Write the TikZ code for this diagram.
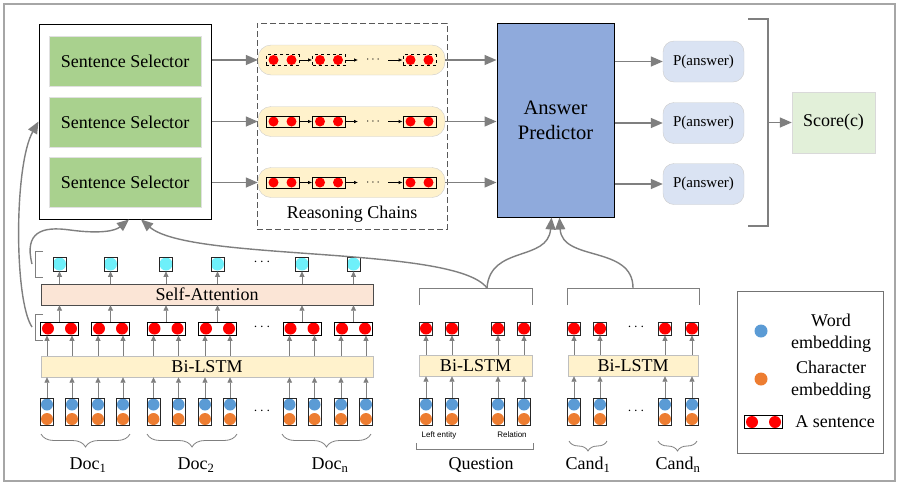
\documentclass[tikz,border=0pt]{standalone}
\usepackage{fontspec}
\setmainfont{Liberation Serif}
\newfontfamily\smallsans{Liberation Sans}
\usepackage{xcolor}
\usetikzlibrary{arrows.meta, calc, decorations.pathreplacing, positioning}
\definecolor{selgreen}{HTML}{A9D18E}
\definecolor{paleyellow}{HTML}{FFF2CC}
\definecolor{predblue}{HTML}{8FAADC}
\definecolor{ansblue}{HTML}{DAE3F3}
\definecolor{scoregreen}{HTML}{E2F0D9}
\definecolor{attpeach}{HTML}{FBE5D6}
\definecolor{cyandot}{RGB}{110,240,250}
\definecolor{wordblue}{HTML}{5B9BD5}
\definecolor{charorange}{HTML}{ED7D31}
\definecolor{dotred}{HTML}{FF0000}
\definecolor{arrowgray}{HTML}{7F7F7F}
\tikzset{
	% text
	txt/.style={font=\fontsize{18}{22}\selectfont},
	% boxes
	selector/.style={txt, fill=selgreen, draw=black!12, minimum width=152pt, minimum height=50pt},
	chain/.style={rounded corners=13pt, fill=paleyellow, draw=black!20, minimum width=187pt, minimum height=30pt},
	layer/.style={txt, draw=black!70, inner sep=0pt, minimum height=21pt},
	answer/.style={font=\fontsize{15}{18}\selectfont, rounded corners=11pt, fill=ansblue, draw=black!20, minimum width=81pt, minimum height=41pt},
	% sentences
	bigsent/.style={draw=black, line width=0.8pt, inner sep=0pt, minimum width=38pt, minimum height=13pt,
		path picture={
			\fill[dotred] ([xshift=-11.5pt]path picture bounding box.center) circle (6pt);
			\fill[dotred] ([xshift=11.5pt]path picture bounding box.center) circle (6pt);
		}},
	chainsent/.style={draw=black, line width=0.7pt, inner sep=0pt, minimum width=33pt, minimum height=11pt,
		path picture={
			\fill[dotred] ([xshift=-9pt]path picture bounding box.center) circle (5pt);
			\fill[dotred] ([xshift=9pt]path picture bounding box.center) circle (5pt);
		}},
	% words
	token/.style={draw=black!85, line width=0.7pt, inner sep=0pt, minimum width=13pt, minimum height=27pt,
		path picture={
			\fill[wordblue] ([yshift=7pt]path picture bounding box.center) circle (6pt);
			\fill[charorange] ([yshift=-7.5pt]path picture bounding box.center) circle (6pt);
		}},
	redsq/.style={draw=black!85, line width=0.7pt, inner sep=0pt, minimum size=13pt,
		path picture={\fill[dotred] (path picture bounding box.center) circle (6pt);}},
	cyansq/.style={draw=black!85, line width=0.7pt, inner sep=0pt, minimum width=13pt, minimum height=14pt,
		path picture={\fill[cyandot] (path picture bounding box.center) circle (6.5pt);}},
	% lines
	bigarrow/.style={draw=arrowgray, line width=1.4pt, -{Triangle[length=12pt,width=10pt]}},
	smallarrow/.style={draw=arrowgray, line width=0.8pt, -{Triangle[length=5.5pt,width=5pt]}},
	chainarrow/.style={draw=black, line width=0.7pt, -{Latex[length=4pt,width=3.5pt]}},
	gline/.style={draw=arrowgray, line width=1.3pt},
	thinline/.style={draw=arrowgray, line width=1pt},
	curly/.style={draw=arrowgray, line width=0.8pt, decorate, decoration={brace, mirror, amplitude=#1}},
	dotsnode/.style={font=\fontsize{14}{14}\selectfont}
}

\begin{document}
\begin{tikzpicture}[x=1pt, y=-1pt]
	\useasboundingbox (0,0) rectangle (898,483);
	% frame
	\draw[black!35, line width=1.2pt] (4,4) rectangle (895,481);
	
	% sentence selectors
	\node[draw=black, line width=1pt, minimum width=172pt, minimum height=195pt] (selwrap) at (125,121.5) {};
	\node[selector] (sel1) at (125,61) {Sentence Selector};
	\node[selector] (sel2) at (125,122) {Sentence Selector};
	\node[selector] (sel3) at (125,182) {Sentence Selector};
	
	% answer predictor
	\node[fill=predblue, draw=black, line width=1pt, minimum width=117pt, minimum height=194pt] (pred) at (555.5,120) {};
	\node[font=\fontsize{20.5}{25}\selectfont, align=center] (predt) at (555.5,120) {Answer\\Predictor};
	
	% reasoning chains
	\node[draw=black!65, line width=0.9pt, dash pattern=on 6pt off 3pt, minimum width=190pt, minimum height=206pt] (rcwrap) at (352,126) {};
	\node[txt] (rclabel) at (352,214) {Reasoning Chains};
	\foreach \r/\y/\ls in {1/60/dashed, 2/121.5/solid, 3/182.5/solid}{
		\node[chain] (ch\r) at (351.5,\y) {};
		\node[chainsent, \ls] (ca\r) at (282.5,\y) {};
		\node[chainsent, \ls] (cb\r) at (329,\y) {};
		\node[chainsent, \ls] (cc\r) at (419.5,\y) {};
		\coordinate (cx\r) at (358,\y);
		\coordinate (cy\r) at (388,\y);
		\node[font=\fontsize{12}{12}\selectfont] (cd\r) at (373,\y) {$\cdots$};
		\draw[chainarrow] (ca\r) -- (cb\r);
		\draw[chainarrow] (cb\r) -- (cx\r);
		\draw[chainarrow] (cy\r) -- (cc\r);
		\draw[bigarrow] (selwrap.east |- ch\r) -- (ch\r.west);
		\draw[bigarrow] (ch\r.east) -- (pred.west |- ch\r);
	}
	
	% answers
	\foreach \r/\y in {1/61.5, 2/123, 3/184}{
		\node[answer] (pa\r) at (703.5,\y) {P(answer)};
		\draw[bigarrow] (pred.east |- pa\r) -- (pa\r.west);
	}
	\draw[gline] (748,19) -- (768,19) -- (768,226) -- (748,226);
	\coordinate (brk) at (768,122.5);
	\node[txt, fill=scoregreen, draw=black!15, minimum width=83pt, minimum height=61pt] (score) at (833.5,122.5) {Score(c)};
	\draw[bigarrow] (brk) -- (score.west);
	
	% documents
	\node[layer, fill=paleyellow, draw=black!25, minimum width=332pt] (bl) at (207,366.5) {Bi-LSTM};
	\node[layer, fill=attpeach, minimum width=332pt] (att) at (207,294.5) {Self-Attention};
	\foreach \i/\m in {1/59.5, 2/110.5, 3/166, 4/217.5, 5/302, 6/353.5}{
		\node[token] (da\i) at (\m-12.5,411.5) {};
		\node[token] (db\i) at (\m+12.5,411.5) {};
		\node[bigsent] (s\i) at (\m,328.5) {};
		\node[cyansq] (h\i) at (\m,264) {};
		\draw[smallarrow] (da\i) -- (da\i |- bl.south);
		\draw[smallarrow] (db\i) -- (db\i |- bl.south);
		\draw[smallarrow] (da\i |- bl.north) -- (da\i |- s\i.south);
		\draw[smallarrow] (db\i |- bl.north) -- (db\i |- s\i.south);
		\draw[smallarrow] (s\i) -- (s\i |- att.south);
		\draw[smallarrow] (att.north -| h\i) -- (h\i);
	}
	\node[dotsnode] (hdots) at (262,262) {$\cdots$};
	\node[dotsnode] (sdots) at (262,327) {$\cdots$};
	\node[dotsnode] (ddots) at (262,411) {$\cdots$};
	\draw[thinline] (43,251) -- (35,251) -- (35,277) -- (43,277);
	\draw[thinline] (43,314) -- (35,314) -- (35,340) -- (43,340);
	\coordinate (hbr) at (32,264);
	\coordinate (sbr) at (32,327);
	\draw[curly=13pt] (41,434) -- (130,434);
	\draw[curly=13pt] (147,434) -- (237,434);
	\draw[curly=13pt] (282,434) -- (371,434);
	\node[txt] (doc1) at (88,465) {Doc\textsubscript{1}};
	\node[txt] (doc2) at (196,465) {Doc\textsubscript{2}};
	\node[txt] (docn) at (330,465) {Doc\textsubscript{n}};
	
	% question
	\node[layer, fill=paleyellow, draw=black!25, minimum width=113pt] (qbl) at (475.5,365.5) {Bi-LSTM};
	\foreach \i/\x in {1/426, 2/452, 3/498, 4/524}{
		\node[token] (qt\i) at (\x,411.5) {};
		\node[redsq] (qs\i) at (\x,328.5) {};
		\draw[smallarrow] (qt\i) -- (qt\i |- qbl.south);
		\draw[smallarrow] (qbl.north -| qs\i) -- (qs\i);
	}
	\draw[thinline] (419,305) -- (419,288) -- (532,288) -- (532,305);
	\coordinate (qtop) at (487,288);
	\node[font=\smallsans\fontsize{8}{9}\selectfont] (qleft) at (439,435) {Left entity};
	\node[font=\smallsans\fontsize{8}{9}\selectfont] (qrel) at (512,435) {Relation};
	\draw[thinline] (416,443) -- (416,449) -- (533,449) -- (533,443);
	\node[txt] (quest) at (481,465) {Question};
	
	% candidates
	\node[layer, fill=paleyellow, draw=black!25, minimum width=130pt] (cbl) at (633,365.5) {Bi-LSTM};
	\foreach \i/\x in {1/574, 2/600, 3/665, 4/692}{
		\node[token] (ct\i) at (\x,411.5) {};
		\node[redsq] (cs\i) at (\x,328.5) {};
		\draw[smallarrow] (ct\i) -- (ct\i |- cbl.south);
		\draw[smallarrow] (cbl.north -| cs\i) -- (cs\i);
	}
	\node[dotsnode] (csdots) at (636,327) {$\cdots$};
	\node[dotsnode] (ctdots) at (636,411) {$\cdots$};
	\draw[thinline] (567,305) -- (567,288) -- (699,288) -- (699,305);
	\coordinate (ctop) at (633,288);
	\draw[curly=10pt] (569,441) -- (607,441);
	\draw[curly=10pt] (658,441) -- (697,441);
	\node[txt] (cand1) at (588,465) {Cand\textsubscript{1}};
	\node[txt] (candn) at (678,465) {Cand\textsubscript{n}};
	
	% curves
	\draw[bigarrow] (hbr) .. controls (24,232) and (42,226) .. (70,230) .. controls (100,234) and (115,231) .. ([xshift=4pt]selwrap.south);
	\draw[bigarrow] (sbr) .. controls (14,300) and (14,165) .. (selwrap.west);
	\draw[bigarrow] (qtop) .. controls (455,245) and (190,262) .. ([xshift=16pt]selwrap.south);
	\draw[bigarrow] (qtop) .. controls (490,245) and (548,262) .. ([xshift=-4pt]pred.south);
	\draw[bigarrow] (ctop) .. controls (633,245) and (562,262) .. ([xshift=4pt]pred.south);
	
	% legend
	\node[draw=black!55, line width=0.9pt, minimum width=146pt, minimum height=162pt] (leg) at (810,372) {};
	\node[circle, fill=wordblue, inner sep=0pt, minimum size=13pt] (lword) at (761,331) {};
	\node[txt, align=center] (lwordt) at (831,333) {Word\\embedding};
	\node[circle, fill=charorange, inner sep=0pt, minimum size=13pt] (lchar) at (761,379) {};
	\node[txt, align=center] (lchart) at (831,380) {Character\\embedding};
	\node[bigsent] (lsent) at (763.5,422) {};
	\node[txt] (lsentt) at (835,422) {A sentence};
\end{tikzpicture}
\end{document}
